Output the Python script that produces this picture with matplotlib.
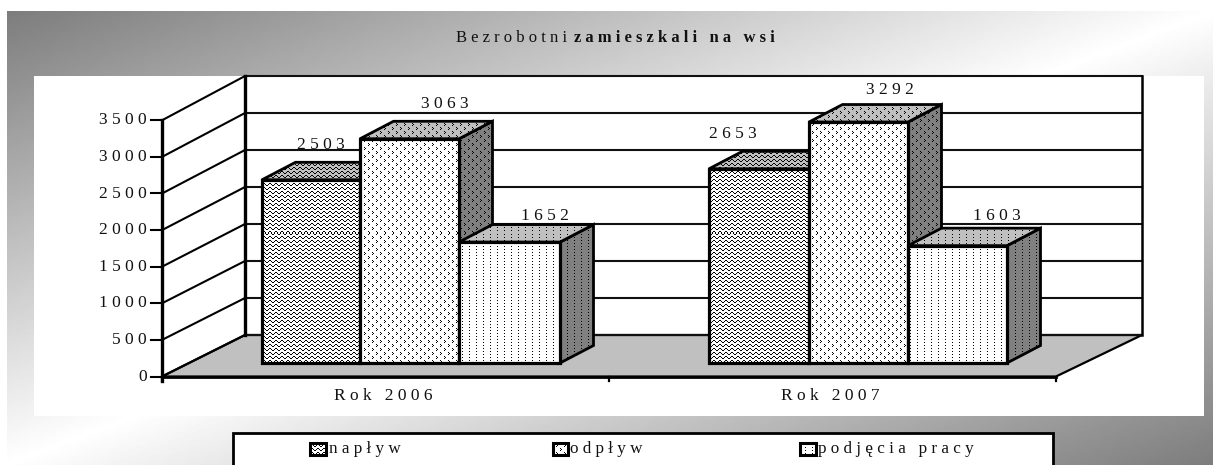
import numpy as np
import matplotlib
matplotlib.use('Agg')
import matplotlib.pyplot as plt
from matplotlib.patches import Polygon, Rectangle

W, H = 1213, 465

# data
years = ['Rok 2006', 'Rok 2007']
series = ['napływ', 'odpływ', 'podjęcia pracy']
naplyw = [2503, 2653]
odplyw = [3063, 3292]
podjecia = [1652, 1603]
y_ticks = [0, 500, 1000, 1500, 2000, 2500, 3000, 3500]

plt.rcParams['font.family'] = ['Liberation Serif', 'DejaVu Serif']

PX = 0.0732  # pixels for one unit of value


def py(p):
    # picture row -> value on the y axis
    return (376.5 - p) / PX


def spaced(s, sep=' '):
    return sep.join(s)


def make_tile(rows):
    return np.array([[c == '#' for c in r] for r in rows])


tile_zig = make_tile(['#....#',
                      '.#..#.',
                      '..##..',
                      '......'])
tile_arrow = make_tile(['#.......',
                        '.#......',
                        '#.......',
                        '........',
                        '....#...',
                        '.....#..',
                        '....#...',
                        '........'])
tile_dots = make_tile(['#......',
                       '.......',
                       '.......'])
tiles = [tile_zig, tile_arrow, tile_dots]

fig = plt.figure(figsize=(W / 100, H / 100), dpi=100)
ax = fig.add_axes([0, 0, 1, 1])
ax.axis('off')


def pattern_poly(pts, tile, bg, lw=2.0, z=3):
    # polygon filled with a small bitmap pattern, like the old Excel fills
    reps = (H // tile.shape[0] + 1, W // tile.shape[1] + 1)
    mask = np.tile(tile, reps)[:H, :W]
    arr = np.where(mask, 0, bg)
    im = ax.imshow(arr, cmap='gray', vmin=0, vmax=255, aspect='auto',
                   extent=(0, W, py(H), py(0)), interpolation='nearest', zorder=z)
    p = Polygon(pts, closed=True, fill=False, edgecolor='black', lw=lw, zorder=z,
                joinstyle='miter')
    ax.add_patch(p)
    im.set_clip_path(p)


# background gradient
xx, yy = np.meshgrid(np.linspace(0, 1, W - 7), np.linspace(0, 1, H - 12))
grad = 255 - 130 * np.abs(xx + yy - 1)
ax.imshow(grad, cmap='gray', vmin=0, vmax=255, aspect='auto',
          extent=(7, W, py(H), py(12)), zorder=0)

# white plot area
ax.add_patch(Rectangle((34, py(416)), 1170, py(76) - py(416), fc='white', ec='none', zorder=1))

# walls and floor
back_bottom = py(335)
back_scale = (py(76) - py(335)) / 3500
ax.add_patch(Polygon([(162, 0), (245, back_bottom), (1142, back_bottom), (1056, 0)],
                     closed=True, fc='#c0c0c0', ec='black', lw=1.6, zorder=1.5))
for v in y_ticks:
    back_y = back_bottom + v * back_scale
    ax.plot([162, 245], [v, back_y], color='black', lw=1.5, zorder=2, solid_capstyle='butt')
    ax.plot([245, 1142], [back_y, back_y], color='#111111', lw=1.5, zorder=2)
    ax.plot([151, 162], [v, v], color='black', lw=1.5, zorder=2)
    ax.text(147, v, spaced(str(v)), ha='right', va='center', fontsize=12.5, color='#111111')

ax.plot([245, 245], [back_bottom, py(76)], color='black', lw=2.4, zorder=2)
ax.plot([1142, 1142], [back_bottom, py(76)], color='black', lw=1.8, zorder=2)
ax.plot([162, 162], [py(381), py(120)], color='black', lw=2.4, zorder=2)
ax.plot([162, 1056], [0, 0], color='black', lw=2, zorder=2)
for x in [162, 609, 1056]:
    ax.plot([x, x], [0, py(381)], color='black', lw=1.6, zorder=2)

# bars, left to right so the later ones cover the earlier ones
bar_edges = [[262, 360, 459, 560], [709, 809, 908, 1007]]
bar_base = py(363)
DX, DY = 33.5, 17.5 / PX
label_shift = [[(10, 17), (35, 17), (35, 9)], [(-26, 17), (31, 15), (39, 12)]]
z = 3
for g in range(2):
    values = [naplyw[g], odplyw[g], podjecia[g]]
    for i, v in enumerate(values):
        x0, x1 = bar_edges[g][i], bar_edges[g][i + 1]
        top = bar_base + v
        pattern_poly([(x1, bar_base), (x1 + DX, bar_base + DY), (x1 + DX, top + DY), (x1, top)],
                     tiles[i], 128, z=z)
        pattern_poly([(x0, top), (x0 + DX, top + DY), (x1 + DX, top + DY), (x1, top)],
                     tiles[i], 192, z=z + 0.1)
        pattern_poly([(x0, bar_base), (x0, top), (x1, top), (x1, bar_base)],
                     tiles[i], 255, lw=2.3, z=z + 0.2)
        sx, sy = label_shift[g][i]
        ax.text((x0 + x1) / 2 + sx, top + DY + sy / PX, spaced(str(v)), ha='center', va='center',
                fontsize=12.5, color='#111111', zorder=10)
        z += 1

# category labels
ax.text(383, py(396), spaced(years[0]), ha='center', va='center', fontsize=12.5, color='#111111')
ax.text(830, py(396), spaced(years[1]), ha='center', va='center', fontsize=12.5, color='#111111')

# title
ax.text(567, py(38), spaced('Bezrobotni'), ha='right', va='center', fontsize=12,
        color='#111111')
ax.text(574, py(38), spaced('zamieszkali na wsi'), ha='left', va='center', fontsize=12,
        fontweight='bold', color='#111111')

# legend, its bottom edge runs off the picture
ax.add_patch(Polygon([(233, py(H + 5)), (233, py(433)), (1053, py(433)), (1053, py(H + 5))],
                     closed=False, fc='white', ec='black', lw=2, zorder=20))
legend_x = [(310, 326), (553, 568), (800, 816)]
text_x = [329, 570, 818]
for i, name in enumerate(series):
    x0, x1 = legend_x[i]
    pattern_poly([(x0, py(455)), (x0, py(443)), (x1, py(443)), (x1, py(455))],
                 tiles[i], 255, lw=2.2, z=21)
    ax.text(text_x[i], py(449), spaced(name), ha='left', va='center', fontsize=12.3,
            color='#111111', zorder=22)

ax.set_xlim(0, W)
ax.set_ylim(py(H), py(0))
fig.savefig('out.png', dpi=100, facecolor='white')
